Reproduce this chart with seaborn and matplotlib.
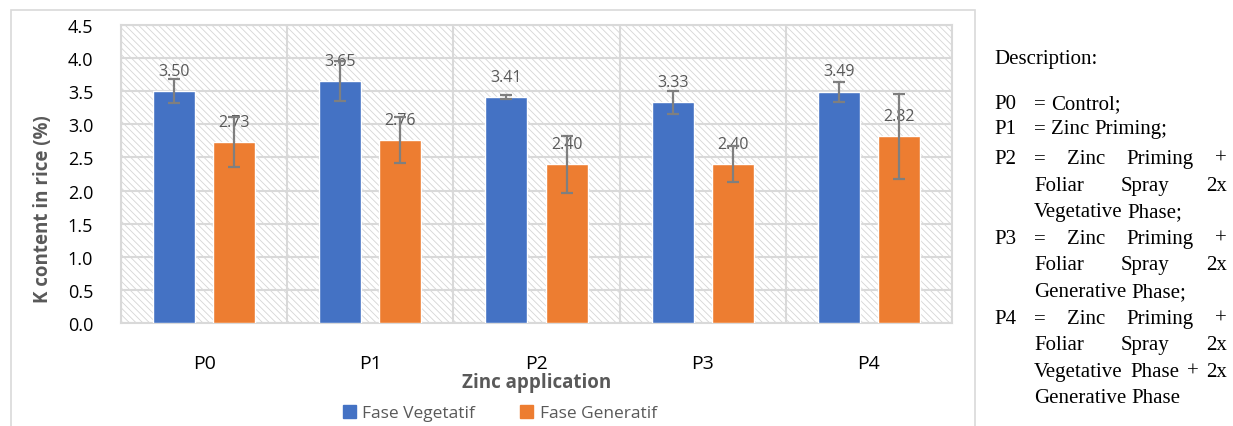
import numpy as np
import pandas as pd
import matplotlib
matplotlib.use("Agg")
import matplotlib.pyplot as plt
from matplotlib.patches import Rectangle
import seaborn as sns

# data
treatments = ["P0", "P1", "P2", "P3", "P4"]
vegetatif = [3.50, 3.65, 3.41, 3.33, 3.49]
generatif = [2.73, 2.76, 2.40, 2.40, 2.82]
err_veg = [0.18, 0.30, 0.03, 0.17, 0.15]
err_gen = [0.38, 0.35, 0.43, 0.27, 0.64]
phases = ["Fase Vegetatif", "Fase Generatif"]
yticks = [0.0, 0.5, 1.0, 1.5, 2.0, 2.5, 3.0, 3.5, 4.0, 4.5]

df = pd.DataFrame({
    "treatment": treatments * 2,
    "value": vegetatif + generatif,
    "phase": [phases[0]] * 5 + [phases[1]] * 5,
})

sns.set_theme(style="white")
plt.rcParams["font.family"] = ["Open Sans", "DejaVu Sans"]
plt.rcParams["hatch.linewidth"] = 0.6
gray_txt = "#595959"
grid_c = "#d9d9d9"

fig = plt.figure(figsize=(12.33, 4.27), dpi=100)
ax = fig.add_axes([121 / 1233, 1 - 324 / 427, (952 - 121) / 1233, (324 - 26) / 427])

# hatched plot background
ax.add_patch(Rectangle((0, 0), 1, 1, transform=ax.transAxes, facecolor="white",
                       edgecolor="#d5d5d5", hatch="\\\\\\\\\\", linewidth=0, zorder=0))

sns.barplot(data=df, x="treatment", y="value", hue="phase",
            palette=["#4472C4", "#ED7D31"], saturation=1, width=0.724, gap=0.30,
            errorbar=None, ax=ax, zorder=3, legend=True)

errs = [err_veg, err_gen]
for cont, e in zip(ax.containers, errs):
    xs = [p.get_x() + p.get_width() / 2 for p in cont.patches]
    ys = [p.get_height() for p in cont.patches]
    ax.bar_label(cont, labels=[f"{v:.2f}" for v in ys], padding=9,
                 fontsize=11.5, color=gray_txt, zorder=4)
    ax.errorbar(xs, ys, yerr=e, fmt="none", ecolor="#7f7f7f", elinewidth=1.6,
                capsize=4.5, capthick=1.6, zorder=5)

ax.set_ylim(0, 4.5)
ax.set_xlim(-0.5, 4.5)
ax.set_yticks(yticks)
ax.set_yticklabels([f"{t:.1f}" for t in yticks])
ax.set_xticks(np.arange(-0.5, 5, 1.0), minor=True)
ax.grid(axis="y", color=grid_c, linewidth=1.5, zorder=1)
ax.grid(axis="x", which="minor", color=grid_c, linewidth=1.5, zorder=1)
ax.grid(axis="x", which="major", visible=False)
ax.set_axisbelow(True)
for s in ax.spines.values():
    s.set_color(grid_c)
    s.set_linewidth(1.5)
ax.tick_params(axis="y", length=0, pad=20, labelsize=13, labelcolor="#000000")
ax.tick_params(axis="x", which="both", length=0, pad=22, labelsize=14, labelcolor="#000000")

ax.set_xlabel("Zinc application", fontsize=13.5, fontweight="bold", color=gray_txt)
ax.xaxis.set_label_coords(0.5, -0.165)
ax.set_ylabel("K content in rice (%)", fontsize=13.5, fontweight="bold", color=gray_txt, va="center")
ax.yaxis.set_label_coords(-0.094, 0.386)

ax.get_legend().remove()
handles = [Rectangle((0, 0), 1, 1, color=c) for c in ["#4472C4", "#ED7D31"]]
fig.legend(handles, phases, loc="center", bbox_to_anchor=(500 / 1233, 1 - 414 / 427),
           ncol=2, frameon=False, fontsize=12.5, labelcolor=gray_txt,
           handlelength=0.75, handleheight=0.75, handletextpad=0.35, columnspacing=2.6)

# outer chart frame
fig.patches.append(Rectangle((11 / 1233, -0.1), (975 - 11) / 1233, 1 - 11 / 427 + 0.1,
                             transform=fig.transFigure, fill=False, edgecolor=grid_c,
                             linewidth=1.2))

# description on the right, justified like the source
serif = "Liberation Serif"
fs = 15
x_lab = 994
x_ind = 1034
x_right = 1227
lines = [
    (58, None, ["Description:"], False),
    (103, "P0", ["=", "Control;"], False),
    (128, "P1", ["=", "Zinc", "Priming;"], False),
    (158, "P2", ["=", "Zinc", "Priming", "+"], True),
    (185, None, ["Foliar", "Spray", "2x"], True),
    (211, None, ["Vegetative", "Phase;"], False),
    (238, "P3", ["=", "Zinc", "Priming", "+"], True),
    (264, None, ["Foliar", "Spray", "2x"], True),
    (291, None, ["Generative", "Phase;"], False),
    (318, "P4", ["=", "Zinc", "Priming", "+"], True),
    (344, None, ["Foliar", "Spray", "2x"], True),
    (371, None, ["Vegetative", "Phase", "+", "2x"], True),
    (397, None, ["Generative", "Phase"], False),
]
renderer = fig.canvas.get_renderer()
m1 = fig.text(0, 0, "a a", family=serif, fontsize=fs)
m2 = fig.text(0, 0, "aa", family=serif, fontsize=fs)
space = m1.get_window_extent(renderer).width - m2.get_window_extent(renderer).width
m1.remove()
m2.remove()
for ypix, lab, words, justify in lines:
    yf = 1 - (ypix + 6) / 427  # baseline
    if lab is not None:
        fig.text(x_lab / 1233, yf, lab, family=serif, fontsize=fs, va="baseline", color="black")
    if words == ["Description:"]:
        fig.text(x_lab / 1233, yf, words[0], family=serif, fontsize=fs, va="baseline", color="black")
        continue
    texts = [fig.text(0, yf, w, family=serif, fontsize=fs, va="baseline", color="black") for w in words]
    widths = [t.get_window_extent(renderer).width for t in texts]
    if justify and len(words) > 1:
        gap = (x_right - x_ind - sum(widths)) / (len(words) - 1)
    else:
        gap = space
    x = x_ind
    for t, w in zip(texts, widths):
        t.set_x(x / 1233)
        x += w + gap

fig.savefig("out.png", dpi=100)
